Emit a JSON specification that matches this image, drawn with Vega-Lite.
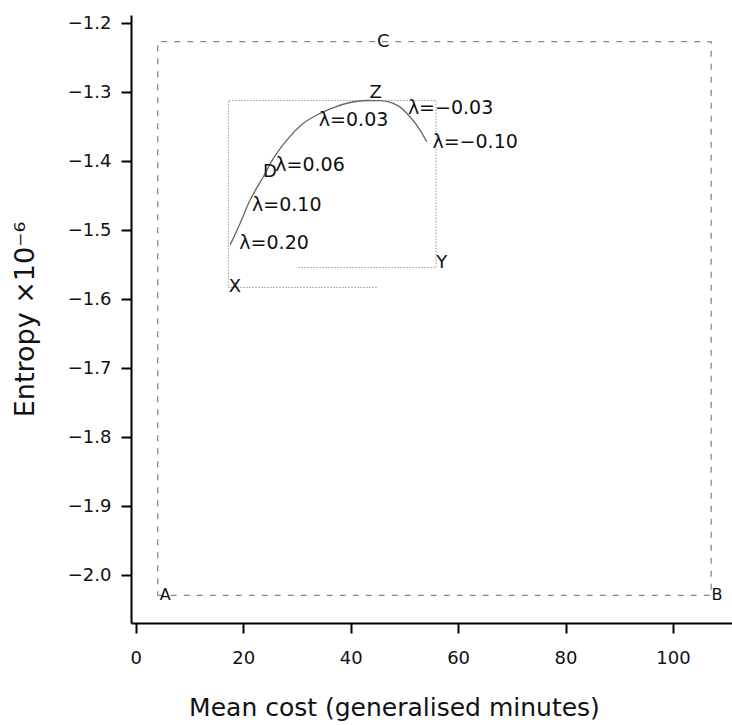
{
  "$schema": "https://vega.github.io/schema/vega-lite/v6.json",
  "width": 601,
  "height": 608,
  "autosize": {"type": "none"},
  "padding": {"left": 131, "top": 15, "right": 0, "bottom": 102},
  "background": "white",
  "config": {
    "view": {"stroke": null},
    "font": "DejaVu Sans",
    "text": {"font": "DejaVu Sans"}
  },
  "datasets": {
    "outer": [
      {"i": 0, "x": 4.08, "y": -2.029},
      {"i": 1, "x": 107.12, "y": -2.029},
      {"i": 2, "x": 107.12, "y": -1.2267},
      {"i": 3, "x": 4.08, "y": -1.2267},
      {"i": 4, "x": 4.08, "y": -2.029}
    ],
    "inner": [
      {"i": 0, "x": 44.86, "y": -1.5828},
      {"i": 1, "x": 17.23, "y": -1.5828},
      {"i": 2, "x": 17.23, "y": -1.312},
      {"i": 3, "x": 55.9, "y": -1.312},
      {"i": 4, "x": 55.9, "y": -1.5538},
      {"i": 5, "x": 30.07, "y": -1.5538}
    ],
    "curve": [
      {"i": 0, "x": 17.54, "y": -1.5215},
      {"i": 1, "x": 19.4, "y": -1.49},
      {"i": 2, "x": 21.27, "y": -1.4562},
      {"i": 3, "x": 23.74, "y": -1.4224},
      {"i": 4, "x": 25.61, "y": -1.3958},
      {"i": 5, "x": 28.1, "y": -1.3692},
      {"i": 6, "x": 31.19, "y": -1.345},
      {"i": 7, "x": 34.3, "y": -1.3305},
      {"i": 8, "x": 37.09, "y": -1.3214},
      {"i": 9, "x": 39.89, "y": -1.3148},
      {"i": 10, "x": 43.0, "y": -1.3119},
      {"i": 11, "x": 45.48, "y": -1.3122},
      {"i": 12, "x": 48.58, "y": -1.3185},
      {"i": 13, "x": 51.06, "y": -1.3354},
      {"i": 14, "x": 52.92, "y": -1.3547},
      {"i": 15, "x": 54.17, "y": -1.3717}
    ],
    "letters": [
      {"x": 5.47, "y": -2.029, "label": "A"},
      {"x": 108.2, "y": -2.029, "label": "B"}
    ],
    "bigletters": [
      {"x": 46.09, "y": -1.2267, "label": "C"},
      {"x": 44.67, "y": -1.3015, "label": "Z"},
      {"x": 24.99, "y": -1.4152, "label": "D"},
      {"x": 18.47, "y": -1.582, "label": "X"},
      {"x": 56.96, "y": -1.5476, "label": "Y"}
    ],
    "lambdas": [
      {"x": 58.6, "y": -1.3233, "label": "λ=−0.03"},
      {"x": 63.17, "y": -1.3717, "label": "λ=−0.10"},
      {"x": 40.54, "y": -1.3402, "label": "λ=0.03"},
      {"x": 32.44, "y": -1.4055, "label": "λ=0.06"},
      {"x": 28.1, "y": -1.4635, "label": "λ=0.10"},
      {"x": 25.74, "y": -1.519, "label": "λ=0.20"}
    ]
  },
  "encoding": {
    "x": {
      "field": "x",
      "type": "quantitative",
      "scale": {"domain": [-0.9, 111], "nice": false, "zero": false},
      "axis": {
        "values": [0, 20, 40, 60, 80, 100],
        "grid": false,
        "domainColor": "black",
        "domainWidth": 2,
        "tickColor": "black",
        "tickWidth": 2,
        "tickSize": 10,
        "labelFont": "DejaVu Sans",
        "labelFontSize": 18,
        "labelColor": "#111",
        "labelBaseline": "alphabetic",
        "labelPadding": 30,
        "labelFlush": false,
        "title": "Mean cost (generalised minutes)",
        "titleFont": "DejaVu Sans",
        "titleFontSize": 25,
        "titleFontWeight": "normal",
        "titleColor": "#111",
        "titleX": 263,
        "titleY": 92,
        "titleAlign": "center",
        "titleBaseline": "alphabetic"
      }
    },
    "y": {
      "field": "y",
      "type": "quantitative",
      "scale": {"domain": [-2.069, -1.188], "nice": false, "zero": false},
      "axis": {
        "values": [-2.0, -1.9, -1.8, -1.7, -1.6, -1.5, -1.4, -1.3, -1.2],
        "format": ".1f",
        "grid": false,
        "domainColor": "black",
        "domainWidth": 2,
        "tickColor": "black",
        "tickWidth": 2,
        "tickSize": 10,
        "labelFont": "DejaVu Sans",
        "labelFontSize": 18,
        "labelColor": "#111",
        "labelPadding": 10,
        "labelFlush": false,
        "title": "Entropy ×10⁻⁶",
        "titleFont": "DejaVu Sans",
        "titleFontSize": 27,
        "titleFontWeight": "normal",
        "titleColor": "#111",
        "titleX": -98,
        "titleY": 304,
        "titleAlign": "center",
        "titleBaseline": "alphabetic"
      }
    }
  },
  "layer": [
    {
      "data": {"name": "outer"},
      "mark": {"type": "line", "color": "#888", "strokeWidth": 1.3, "strokeDash": [6, 7]},
      "encoding": {"order": {"field": "i", "type": "quantitative"}}
    },
    {
      "data": {"name": "inner"},
      "mark": {"type": "line", "color": "#999", "strokeWidth": 1, "strokeDash": [1.5, 1.5]},
      "encoding": {"order": {"field": "i", "type": "quantitative"}}
    },
    {
      "data": {"name": "curve"},
      "mark": {"type": "line", "color": "#666", "strokeWidth": 1.3, "interpolate": "monotone"},
      "encoding": {"order": {"field": "i", "type": "quantitative"}}
    },
    {
      "data": {"name": "letters"},
      "mark": {"type": "text", "fontSize": 16, "color": "#111", "align": "center", "baseline": "middle"},
      "encoding": {"text": {"field": "label"}}
    },
    {
      "data": {"name": "bigletters"},
      "mark": {"type": "text", "fontSize": 18, "color": "#111", "align": "center", "baseline": "middle"},
      "encoding": {"text": {"field": "label"}}
    },
    {
      "data": {"name": "lambdas"},
      "mark": {"type": "text", "fontSize": 19, "color": "#111", "align": "center", "baseline": "middle"},
      "encoding": {"text": {"field": "label"}}
    }
  ]
}
